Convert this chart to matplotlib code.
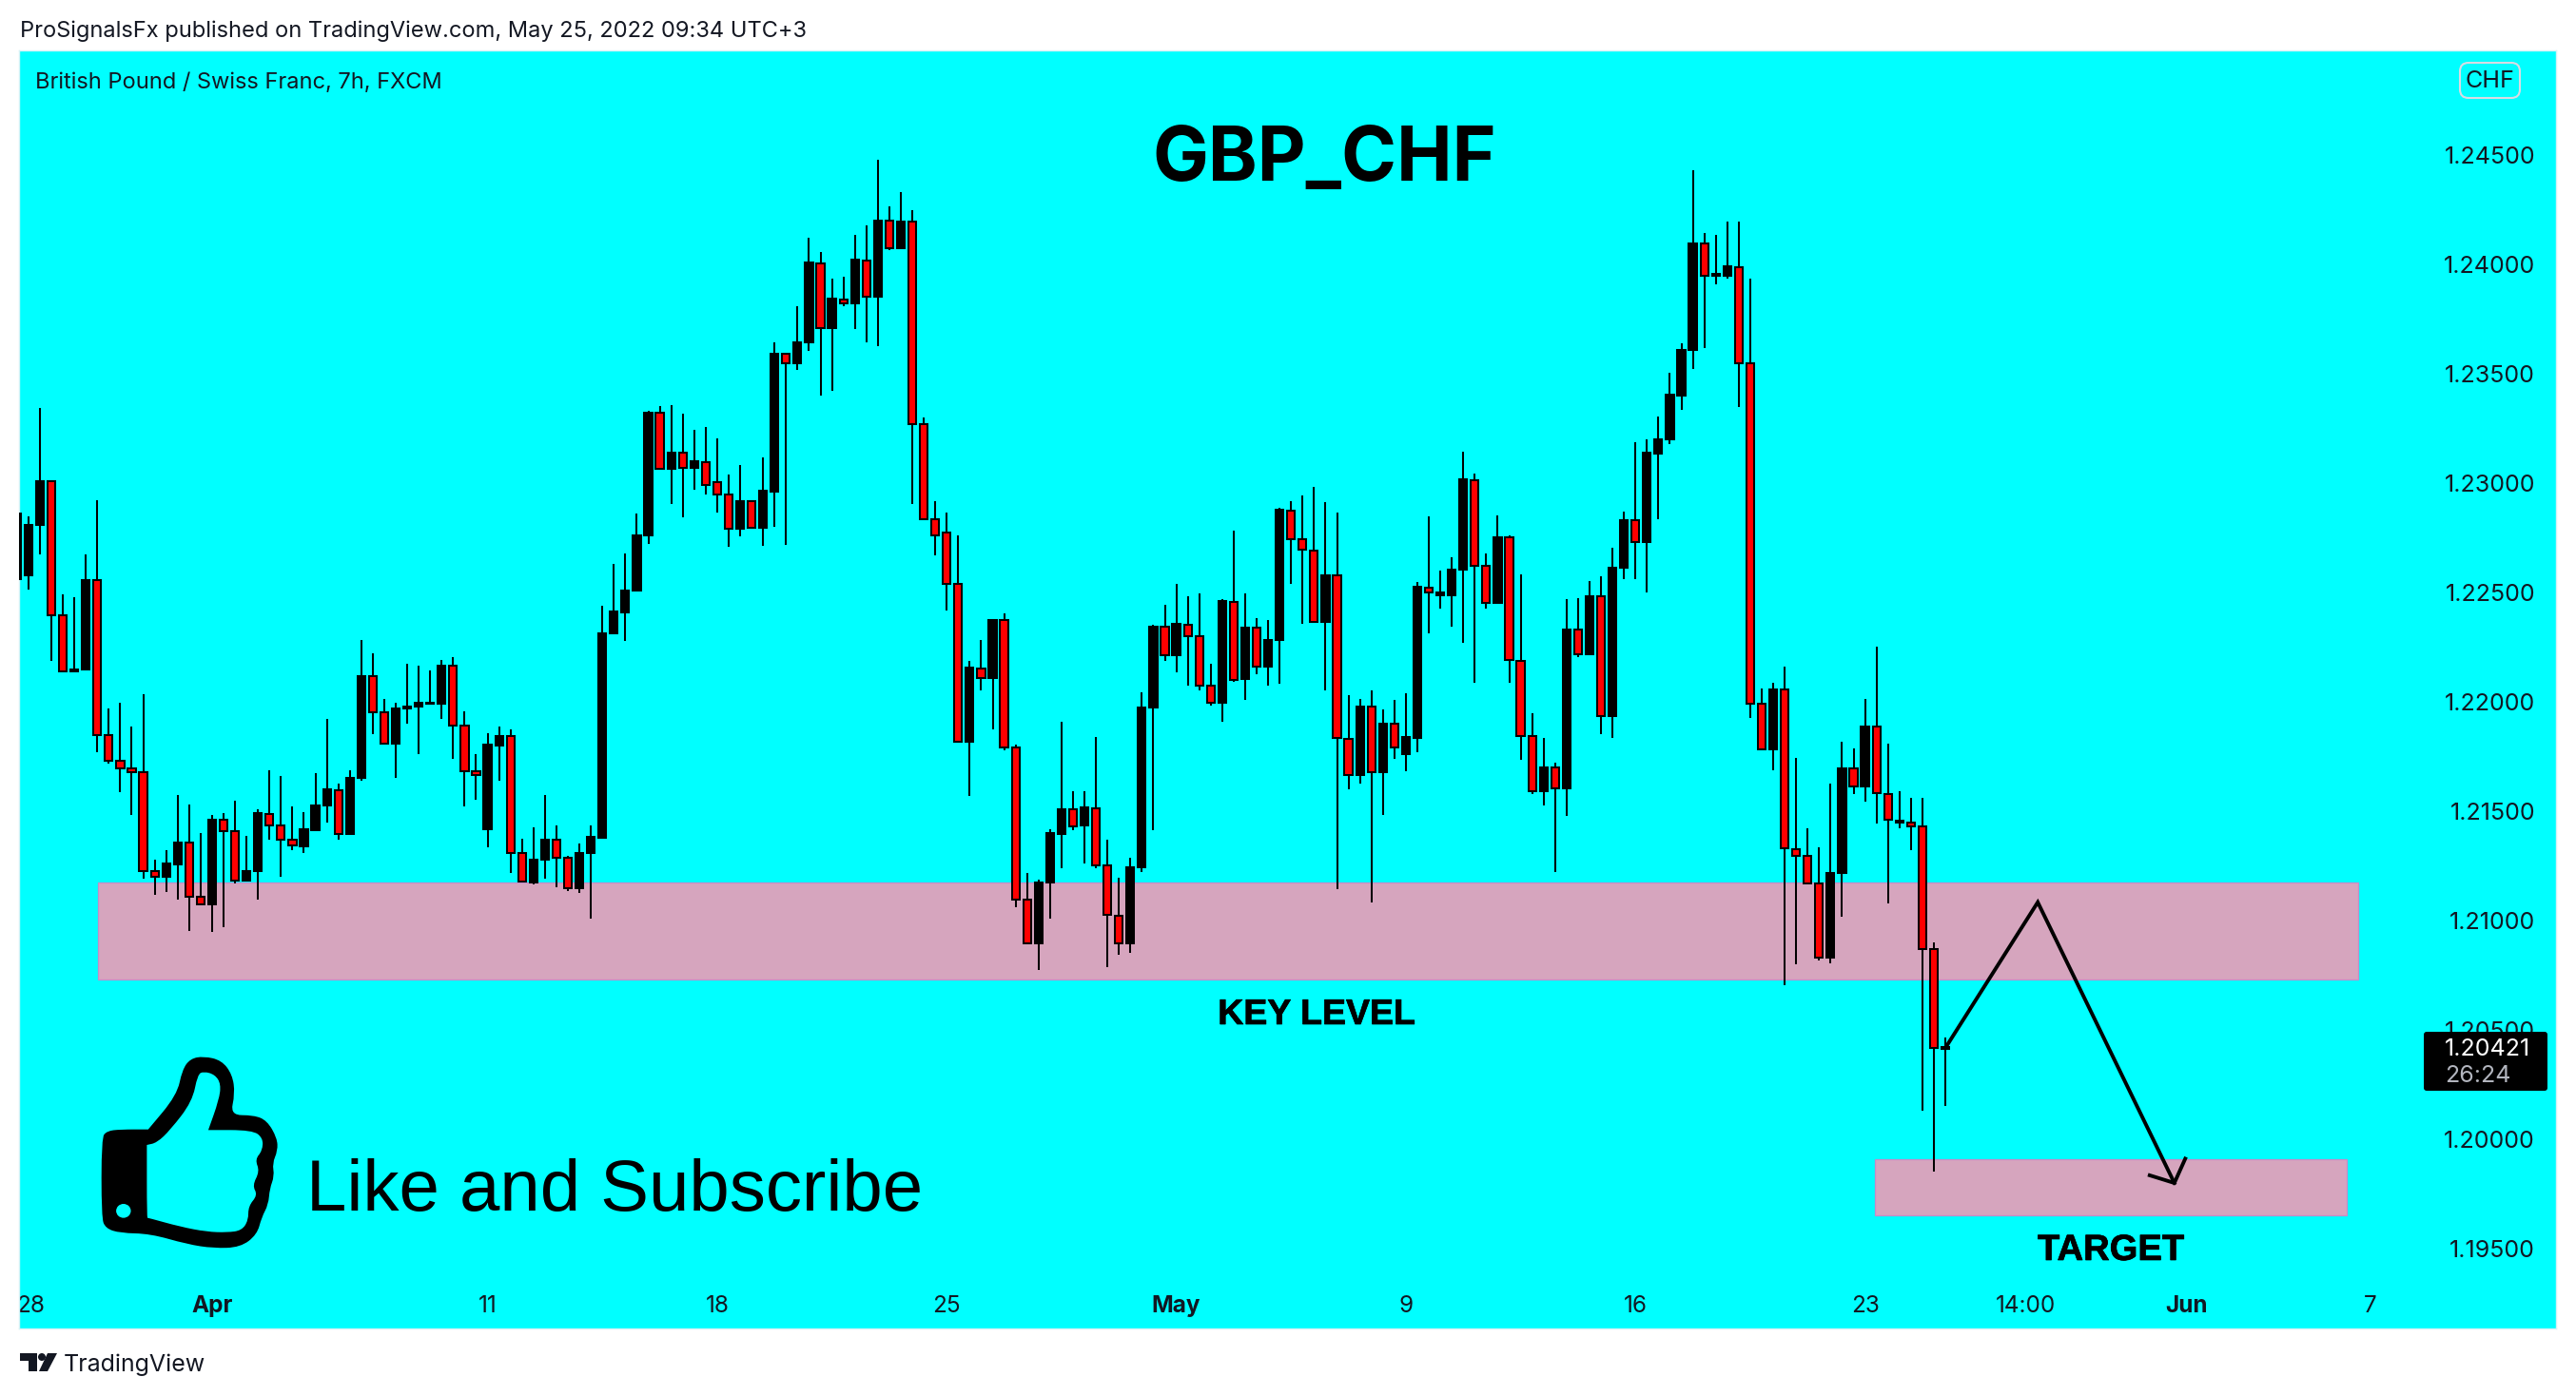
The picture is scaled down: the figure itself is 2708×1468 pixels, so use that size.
#! /usr/bin/python
## GBP/CHF 7h candles with key level and target zones, TradingView snapshot look

import numpy as np
import matplotlib
matplotlib.use('Agg')
import matplotlib.pyplot as plt
import matplotlib.patheffects as pe
from matplotlib.path import Path
from matplotlib.patches import PathPatch, Ellipse, FancyBboxPatch, Rectangle, Polygon, Circle
from matplotlib.transforms import Affine2D

# candles
highs = [1.22860,
    1.22848, 1.23343, 1.23013, 1.22490, 1.22478, 1.22671, 1.22919, 1.21969, 1.21993, 1.21884,
    1.22035, 1.21278, 1.21323, 1.21575, 1.21531, 1.21399, 1.21483, 1.21491, 1.21545, 1.21387,
    1.21509, 1.21686, 1.21660, 1.21521, 1.21495, 1.21674, 1.21922, 1.21627, 1.21686, 1.22282,
    1.22221, 1.22014, 1.21995, 1.22174, 1.22165, 1.22143, 1.22191, 1.22205, 1.21957, 1.21762,
    1.21854, 1.21887, 1.21875, 1.21375, 1.21427, 1.21575, 1.21432, 1.21295, 1.21351, 1.21432,
    1.22440, 1.22631, 1.22678, 1.22860, 1.23331, 1.23350, 1.23356, 1.23316, 1.23244, 1.23257,
    1.23204, 1.23039, 1.23082, 1.22922, 1.23117, 1.23643, 1.23589, 1.23806, 1.24118, 1.24053,
    1.23931, 1.23943, 1.24135, 1.24175, 1.24475, 1.24262, 1.24330, 1.24245, 1.23297, 1.22917,
    1.22862, 1.22760, 1.22186, 1.22283, 1.22378, 1.22405, 1.21804, 1.21217, 1.21185, 1.21417,
    1.21909, 1.21592, 1.21592, 1.21839, 1.21370, 1.21195, 1.21287, 1.22044, 1.22353, 1.22443,
    1.22540, 1.22483, 1.22495, 1.22173, 1.22470, 1.22782, 1.22495, 1.22383, 1.22373, 1.22887,
    1.22917, 1.22940, 1.22982, 1.22910, 1.22865, 1.22031, 1.22011, 1.22049, 1.21966, 1.22009,
    1.22036, 1.22548, 1.22845, 1.22600, 1.22660, 1.23144, 1.23044, 1.22678, 1.22852, 1.22760,
    1.22583, 1.21949, 1.21834, 1.21722, 1.22470, 1.22473, 1.22553, 1.22573, 1.22705, 1.22870,
    1.23187, 1.23197, 1.23304, 1.23501, 1.23638, 1.24427, 1.24143, 1.24135, 1.24193, 1.24193,
    1.23931, 1.22061, 1.22086, 1.22161, 1.21744, 1.21419, 1.21336, 1.21626, 1.21818, 1.21786,
    1.22012, 1.22251, 1.21808, 1.21591, 1.21562, 1.21562, 1.20899, 1.20465]
lows = [1.22558,
    1.22511, 1.22671, 1.22188, 1.22136, 1.22136, 1.22146, 1.21769, 1.21717, 1.21587, 1.21483,
    1.21191, 1.21116, 1.21128, 1.21097, 1.20951, 1.21073, 1.20946, 1.20970, 1.21168, 1.21182,
    1.21097, 1.21370, 1.21198, 1.21321, 1.21309, 1.21406, 1.21446, 1.21370, 1.21394, 1.21639,
    1.21851, 1.21806, 1.21653, 1.21901, 1.21762, 1.21990, 1.21922, 1.21740, 1.21519, 1.21552,
    1.21333, 1.21639, 1.21215, 1.21177, 1.21165, 1.21191, 1.21151, 1.21132, 1.21125, 1.21007,
    1.21377, 1.22311, 1.22278, 1.22506, 1.22721, 1.23063, 1.22902, 1.22840, 1.22967, 1.22947,
    1.22865, 1.22707, 1.22757, 1.22795, 1.22712, 1.22797, 1.22717, 1.23516, 1.23604, 1.23399,
    1.23421, 1.23808, 1.23703, 1.23641, 1.23624, 1.24065, 1.24073, 1.22902, 1.22835, 1.22668,
    1.22415, 1.21816, 1.21567, 1.22051, 1.21871, 1.21776, 1.21060, 1.20893, 1.20773, 1.21010,
    1.21237, 1.21412, 1.21262, 1.21237, 1.20786, 1.20845, 1.20850, 1.21220, 1.21412, 1.22186,
    1.22133, 1.22071, 1.22049, 1.21981, 1.21906, 1.22091, 1.22006, 1.22123, 1.22071, 1.22081,
    1.22538, 1.22356, 1.22363, 1.22051, 1.21143, 1.21599, 1.21624, 1.21080, 1.21482, 1.21737,
    1.21682, 1.21767, 1.22311, 1.22425, 1.22341, 1.22268, 1.22086, 1.22425, 1.22450, 1.22088,
    1.21734, 1.21577, 1.21524, 1.21220, 1.21477, 1.22203, 1.22216, 1.21851, 1.21836, 1.22560,
    1.22560, 1.22498, 1.22832, 1.23177, 1.23334, 1.23521, 1.23616, 1.23906, 1.23933, 1.23346,
    1.21924, 1.21781, 1.21684, 1.20706, 1.20798, 1.21167, 1.20819, 1.20804, 1.21017, 1.21578,
    1.21543, 1.21441, 1.21078, 1.21422, 1.21320, 1.20131, 1.19850, 1.20150]
opens = [1.22558,
    1.22577, 1.22808, 1.23008, 1.22393, 1.22136, 1.22146, 1.22554, 1.21846, 1.21729, 1.21693,
    1.21677, 1.21224, 1.21198, 1.21257, 1.21356, 1.21106, 1.21073, 1.21460, 1.21410, 1.21182,
    1.21224, 1.21488, 1.21434, 1.21368, 1.21340, 1.21413, 1.21524, 1.21594, 1.21394, 1.21651,
    1.22115, 1.21950, 1.21806, 1.21967, 1.21976, 1.21990, 1.21990, 1.22162, 1.21889, 1.21681,
    1.21415, 1.21799, 1.21842, 1.21307, 1.21175, 1.21276, 1.21368, 1.21286, 1.21146, 1.21307,
    1.21377, 1.22311, 1.22407, 1.22506, 1.22759, 1.23320, 1.23064, 1.23139, 1.23067, 1.23094,
    1.23004, 1.22945, 1.22790, 1.22917, 1.22795, 1.22960, 1.23589, 1.23546, 1.23641, 1.24003,
    1.23708, 1.23838, 1.23821, 1.24015, 1.23851, 1.24198, 1.24073, 1.24193, 1.23267, 1.22832,
    1.22772, 1.22538, 1.21816, 1.22153, 1.22106, 1.22371, 1.21789, 1.21093, 1.20893, 1.21172,
    1.21397, 1.21507, 1.21432, 1.21514, 1.21250, 1.21023, 1.20893, 1.21242, 1.21971, 1.22341,
    1.22211, 1.22353, 1.22298, 1.22071, 1.21994, 1.22455, 1.22103, 1.22336, 1.22158, 1.22281,
    1.22872, 1.22740, 1.22692, 1.22363, 1.22575, 1.21831, 1.21664, 1.21976, 1.21677, 1.21899,
    1.21759, 1.21836, 1.22520, 1.22485, 1.22485, 1.22603, 1.23012, 1.22620, 1.22450, 1.22750,
    1.22188, 1.21841, 1.21589, 1.21697, 1.21602, 1.22328, 1.22216, 1.22480, 1.21934, 1.22610,
    1.22827, 1.22727, 1.23134, 1.23197, 1.23399, 1.23606, 1.24093, 1.23945, 1.23948, 1.23985,
    1.23546, 1.21989, 1.21781, 1.22054, 1.21327, 1.21295, 1.21167, 1.20832, 1.21215, 1.21693,
    1.21614, 1.21885, 1.21578, 1.21448, 1.21445, 1.21429, 1.20867, 1.20414]
closes = [1.22860,
    1.22808, 1.23008, 1.22393, 1.22136, 1.22148, 1.22554, 1.21846, 1.21729, 1.21693, 1.21677,
    1.21224, 1.21198, 1.21262, 1.21356, 1.21106, 1.21073, 1.21462, 1.21410, 1.21182, 1.21227,
    1.21491, 1.21434, 1.21368, 1.21342, 1.21418, 1.21526, 1.21597, 1.21394, 1.21653, 1.22117,
    1.21950, 1.21806, 1.21969, 1.21978, 1.21995, 1.21995, 1.22165, 1.21889, 1.21681, 1.21663,
    1.21804, 1.21844, 1.21307, 1.21177, 1.21278, 1.21370, 1.21286, 1.21146, 1.21309, 1.21380,
    1.22313, 1.22410, 1.22509, 1.22761, 1.23322, 1.23063, 1.23139, 1.23067, 1.23097, 1.22990,
    1.22947, 1.22790, 1.22917, 1.22795, 1.22962, 1.23591, 1.23546, 1.23643, 1.24005, 1.23708,
    1.23841, 1.23818, 1.24018, 1.23851, 1.24200, 1.24073, 1.24195, 1.23269, 1.22835, 1.22760,
    1.22538, 1.21816, 1.22156, 1.22106, 1.22373, 1.21789, 1.21093, 1.20893, 1.21175, 1.21400,
    1.21509, 1.21430, 1.21517, 1.21250, 1.21025, 1.20893, 1.21242, 1.21974, 1.22343, 1.22211,
    1.22356, 1.22298, 1.22071, 1.21994, 1.22458, 1.22101, 1.22338, 1.22158, 1.22283, 1.22875,
    1.22742, 1.22695, 1.22363, 1.22578, 1.21834, 1.21664, 1.21979, 1.21677, 1.21901, 1.21789,
    1.21839, 1.22523, 1.22498, 1.22500, 1.22605, 1.23014, 1.22620, 1.22450, 1.22752, 1.22191,
    1.21844, 1.21589, 1.21699, 1.21602, 1.22331, 1.22216, 1.22483, 1.21934, 1.22613, 1.22830,
    1.22730, 1.23139, 1.23199, 1.23401, 1.23609, 1.24095, 1.23945, 1.23953, 1.23988, 1.23546,
    1.21991, 1.21781, 1.22056, 1.21330, 1.21295, 1.21167, 1.20832, 1.21218, 1.21696, 1.21614,
    1.21888, 1.21582, 1.21460, 1.21457, 1.21429, 1.20867, 1.20418, 1.20421]

# axis labels
price_ticks = [1.195, 1.200, 1.205, 1.210, 1.215, 1.220, 1.225, 1.230, 1.235, 1.240, 1.245]
time_ticks = [1.17, 17, 41, 61, 81, 101, 121, 141, 161, 175, 189, 205]
time_labels = ['28', 'Apr', '11', '18', '25', 'May', '9', '16', '23', '14:00', 'Jun', '7']
bold_labels = ['Apr', 'May', 'Jun']

# drawings on the chart
key_level = [7.03, 204.0, 1.20730, 1.21174]
target_zone = [161.9, 203.0, 1.19652, 1.19909]
path_x = [168.0, 176.05, 187.95]
path_y = [1.20417, 1.21083, 1.19800]
head_x = [185.8, 187.95, 188.9]
head_y = [1.19835, 1.19800, 1.19911]
last_price = '1.20421'
countdown = '26:24'

W, H = 2708, 1468
TEXT = '#131722'
UI_FONT = 'Inter'
DRAW_FONT = 'Liberation Sans'


def px_text(x, y, s, **kwargs):
    # x,y in picture pixels, from the top left
    return fig.text(x / W, 1 - y / H, s, **kwargs)


def smooth_path(points):
    # closed quadratic curve through the midpoints of the outline
    pts = np.array(points, dtype=float)
    mids = (pts + np.roll(pts, -1, axis=0)) / 2
    verts = [mids[-1]]
    codes = [Path.MOVETO]
    for p, m in zip(pts, mids):
        verts += [p, m]
        codes += [Path.CURVE3, Path.CURVE3]
    return Path(verts, codes)


fig = plt.figure(figsize=(W / 100, H / 100), dpi=100, facecolor='white')
ax = fig.add_axes([20 / W, 1 - 1397 / H, 2667 / W, 1344 / H], facecolor='#00FFFF')
ax.set_xlim(0.18, 221.2)
ax.set_ylim(1.19135, 1.24976)
for s in ax.spines.values():
    s.set_color('#d5f3f7')
    s.set_linewidth(1.0)

# zones go under the candles
for z in (key_level, target_zone):
    ax.add_patch(Rectangle((z[0], z[2]), z[1] - z[0], z[3] - z[2], facecolor='#D6A5BE',
                           edgecolor='#C58CC8', linewidth=0.9, zorder=1))

idx = np.arange(len(opens))
ax.vlines(idx, lows, highs, color='black', linewidth=1.45, zorder=2)
o = np.array(opens)
c = np.array(closes)
colors = ['black' if cl >= op else '#FF0000' for op, cl in zip(o, c)]
ax.bar(idx, np.abs(c - o), bottom=np.minimum(o, c), width=0.68, color=colors,
       edgecolor='black', linewidth=1.45, zorder=3)

ax.plot(path_x, path_y, color='black', linewidth=2.8, solid_joinstyle='miter', zorder=4)
ax.plot(head_x, head_y, color='black', linewidth=2.8, solid_joinstyle='miter', zorder=4)

# price scale sits inside the chart
ax.yaxis.tick_right()
ax.set_yticks(price_ticks)
ax.set_yticklabels(['%.5f' % p for p in price_ticks], fontname=UI_FONT, fontsize=18, color=TEXT, ha='right',
                   va='center_baseline')
ax.tick_params(axis='y', length=0, pad=-15.8)
ax.set_xticks(time_ticks)
ax.set_xticklabels(time_labels, fontname=UI_FONT, fontsize=17.5, color=TEXT, va='center')
ax.tick_params(axis='x', length=0, pad=-17)
for lab in ax.get_xticklabels():
    lab.set_clip_on(True)
    lab.set_clip_box(ax.bbox)
    if lab.get_text() in bold_labels:
        lab.set_fontweight('bold')

# texts
px_text(21, 32.5, 'ProSignalsFx published on TradingView.com, May 25, 2022 09:34 UTC+3',
        fontname=UI_FONT, fontsize=17, color=TEXT, va='center')
px_text(37, 87, 'British Pound / Swiss Franc, 7h, FXCM', fontname=UI_FONT, fontsize=17, color=TEXT, va='center')
px_text(1392, 190, 'GBP_CHF', fontname=UI_FONT, fontweight='bold', fontsize=56.5, color='black',
        ha='center', va='baseline')
px_text(1384, 1077, 'KEY LEVEL', fontname=DRAW_FONT, fontweight='bold', fontsize=27, color='black',
        ha='center', va='baseline', path_effects=[pe.withStroke(linewidth=0.5, foreground='black')])
px_text(2219, 1325, 'TARGET', fontname=DRAW_FONT, fontweight='bold', fontsize=27.5, color='black',
        ha='center', va='baseline', path_effects=[pe.withStroke(linewidth=0.5, foreground='black')])
px_text(322, 1273, 'Like and Subscribe', fontname=DRAW_FONT, fontsize=54.8, color='black', va='baseline')

# CHF badge and last price box
px = Affine2D().scale(1, -1).translate(0, H)
fig.add_artist(FancyBboxPatch((2592, 72), 51, 25, boxstyle='round,pad=6,rounding_size=9', transform=px,
                              facecolor='none', edgecolor='#d8dbe3', linewidth=1.5))
px_text(2617.5, 85, 'CHF', fontname=UI_FONT, fontsize=18, color=TEXT, ha='center', va='center')
box = FancyBboxPatch((2548, 1085), 130, 62, boxstyle='round,pad=0,rounding_size=3', transform=px,
                     facecolor='black', edgecolor='none', zorder=5)
fig.add_artist(box)
px_text(2570, 1103, last_price, fontname=UI_FONT, fontsize=18, color='white', va='center', zorder=6)
px_text(2570, 1131, countdown, fontname=UI_FONT, fontsize=18, color='#b2b5be', va='center', zorder=6)

# thumb icon, outline traced in crop units
icon = Affine2D().scale(1 / 1.425, -1 / 3).translate(0, H - 1050)
outer = [(152, 440), (160, 418), (180, 413), (222, 413), (222, 413), (265, 305), (273, 225), (285, 190), (305, 182),
         (332, 195), (348, 240), (352, 300), (345, 368), (380, 368), (400, 385), (415, 440), (416, 480),
         (408, 520), (411, 560), (404, 600), (402, 650), (392, 690), (385, 745), (360, 785), (320, 788),
         (280, 775), (225, 742), (180, 740), (158, 725), (152, 690)]
inner = [(220, 462), (220, 462), (235, 455), (255, 415), (288, 325), (296, 240), (305, 230), (322, 240),
         (331, 270), (328, 320), (312, 415), (312, 415), (378, 415), (394, 440), (393, 480), (382, 508),
         (389, 545), (378, 590), (386, 620), (372, 655), (372, 700), (362, 732), (340, 738), (310, 736),
         (270, 720), (222, 692), (220, 692)]
fig.add_artist(PathPatch(smooth_path(outer), transform=icon, facecolor='black', edgecolor='none', zorder=4))
fig.add_artist(PathPatch(smooth_path(inner), transform=icon, facecolor='#00FFFF', edgecolor='none', zorder=5))
fig.add_artist(Ellipse((185, 670), 22, 44, transform=icon, facecolor='#00FFFF', edgecolor='none', zorder=5))

# TradingView logo in the footer
fig.add_artist(Polygon([(21, 1423), (39, 1423), (39, 1442), (30, 1442), (30, 1431), (21, 1431)], transform=px,
                       facecolor=TEXT, edgecolor='none'))
fig.add_artist(Circle((44, 1427), 4, transform=px, facecolor=TEXT, edgecolor='none'))
fig.add_artist(Polygon([(50, 1423), (60, 1423), (50, 1442), (41, 1442)], transform=px,
                       facecolor=TEXT, edgecolor='none'))
px_text(67, 1435, 'TradingView', fontname=UI_FONT, fontsize=18, color=TEXT, va='center')

fig.savefig('out.png', dpi=100, facecolor='white')
